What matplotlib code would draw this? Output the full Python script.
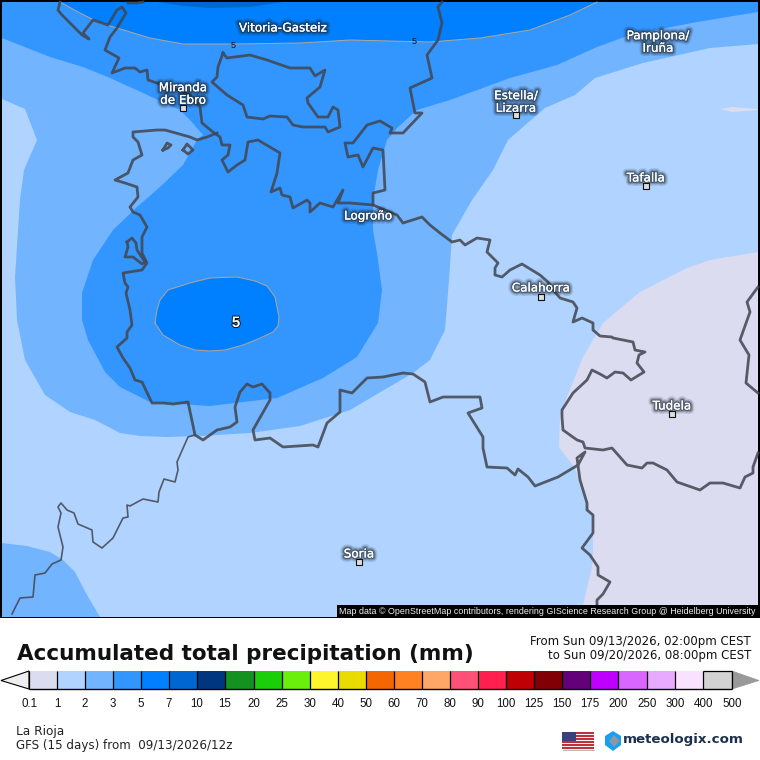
import matplotlib
matplotlib.use("Agg")
import matplotlib.pyplot as plt
import matplotlib.patheffects as pe
from matplotlib.patches import Polygon, Rectangle

# ---------- data (map positions in picture pixels) ----------
LEVELS = ["0.1","1","2","3","5","7","10","15","20","25","30","40","50","60","70","80","90","100",
          "125","150","175","200","250","300","400","500"]
LEVEL_X = [29,57.3,85,113,141,169,197,225,254,282,310,338,366,394,422,450,478,506,534,562,590,618,647,675,703,732]
BAND_COLORS = ["#dcdcf0","#b0d4ff","#73b4ff","#3396ff","#0080ff","#0066d1","#00367f","#14911e","#1acf0a",
               "#6aef0c","#fff52d","#e8dc00","#f46600","#ff8122","#ffa766","#ff5078","#ff2050","#bf0005",
               "#800005","#640078","#c000ff","#d966ff","#e8aaff","#f8e2ff","#d2d2d2"]

area_lt_01 = [(758,252),(710,260),(687,268),(640,292),(603,323),(583,357),(567,397),(560,417),(559,447),(575,468),
              (582,490),(593,520),(593,550),(592,567),(583,605),(580,617),(758,617)]
area_lt_01_sliver = [(720,109),(732,107),(758,109),(758,110),(732,112)]
area_2_main = [(2,2),(2,99),(25,109),(37,140),(24,170),(20,200),(15,277),(17,320),(25,360),(45,395),(70,412),(95,420),
               (120,433),(140,436),(167,437),(200,436),(250,433),(300,426),(350,410),(413,373),(430,360),(445,330),
               (449,280),(452,235),(472,200),(493,170),(508,140),(545,108),(575,95),(595,78),(643,63),(710,48),
               (758,44),(758,2)]
area_2_sw = [(2,543),(27,546),(50,552),(63,560),(75,572),(87,595),(100,617),(2,617)]
area_3_main = [(758,12),(697,22),(630,35),(597,47),(557,65),(510,78),(450,100),(417,110),(397,128),(387,140),(378,170),
               (373,200),(373,230),(377,253),(382,290),(378,323),(357,357),(323,378),(277,398),(210,406),(150,402),
               (120,387),(105,372),(88,340),(82,320),(82,293),(93,260),(113,230),(137,207),(160,187),(183,165),
               (197,140),(203,135),(190,120),(180,110),(143,93),(110,78),(83,67),(50,57),(2,38),(2,2),(758,2)]
area_5_top = [(60,2),(80,13),(100,23),(117,28),(150,38),(183,44),(233,44),(300,43),(350,40),(430,42),(480,38),(530,30),
              (570,15),(597,2)]
area_7_top = [(157,2),(185,6),(210,8),(250,7),(283,2)]
area_5_blob = [(155,323),(157,310),(160,300),(168,290),(190,283),(210,278),(237,277),(255,281),(267,286),(275,297),
               (279,317),(278,326),(273,332),(258,339),(243,345),(225,350),(210,351),(195,350),(180,345),(163,335)]

border_north = [(60,2),(58,10),(62,15),(82,35),(89,39),(83,33),(93,20),(108,25),(117,10),(122,7),(126,13),(117,28),
                (110,37),(105,50),(119,58),(112,73),(125,68),(135,68),(140,72),(147,70),(148,80),(157,83),(172,88),
                (190,95),(200,107),(202,123),(213,132),(220,137),(222,145),(230,145),(228,155),(222,160),(228,172),
                (237,165),(245,160),(248,142),(258,140),(280,153),(277,173),(271,192),(280,188),(282,195),(290,197),
                (293,208),(307,200),(310,203),(310,212),(320,203),(333,207),(343,190),(338,203),(350,203),(373,205),
                (373,193),(385,190),(383,150),(373,148),(363,167),(358,155),(348,157),(345,143),(353,143),(367,125),
                (380,121),(392,128),(390,133),(403,133),(422,113),(415,113),(410,88),(432,78),(427,55),(438,40),
                (442,23),(438,7),(442,2)]
border_enclave = [(223,53),(227,58),(250,55),(267,60),(290,68),(310,68),(315,76),(325,70),(320,87),(307,98),(308,103),
                  (318,117),(328,117),(333,107),(338,110),(340,127),(328,132),(325,127),(303,127),(293,125),(287,117),
                  (270,116),(263,119),(247,117),(243,105),(227,95),(212,82),(217,77),(218,67),(223,53)]
border_west = [(217,133),(207,137),(197,140),(190,137),(165,130),(157,130),(133,132),(133,137),(138,142),(142,155),
               (133,160),(128,173),(115,180),(125,183),(137,187),(138,197),(130,207),(133,212),(140,215),(147,227),
               (142,237),(142,253),(147,263),(142,270),(123,273),(125,283),(128,287),(126,293),(130,310),(132,325),
               (127,332),(127,338),(117,347),(123,358),(130,368),(135,380),(142,382),(152,403),(163,403),(173,404),
               (188,402),(195,435),(203,440),(217,430),(230,427),(237,422),(235,407),(240,392),(247,384),(253,387),
               (262,384),(270,393),(270,400),(253,430),(255,440),(270,438),(283,447),(313,445),(318,447),(327,423),
               (340,412),(340,390),(352,393),(367,378),(383,377),(403,373),(413,374),(425,382),(430,402),(443,397),
               (480,397),(482,408),(468,413),(483,437),(483,448),(487,467),(507,468),(515,475),(518,469),(528,477),
               (535,486),(558,477),(578,465),(585,452),(577,458),(580,480),(587,503),(587,510),(593,515),(593,533),
               (582,548),(590,555),(598,567),(598,575),(610,582),(603,594),(597,600),(597,616)]
border_east = [(373,205),(397,215),(403,223),(422,217),(430,225),(440,233),(452,242),(460,240),(465,245),(477,238),
               (490,240),(487,252),(498,263),(495,268),(495,275),(502,277),(510,270),(522,264),(540,275),(548,282),
               (555,292),(560,298),(573,302),(577,308),(573,322),(582,318),(593,323),(593,330),(600,336),(612,337),
               (613,338),(633,342),(635,350),(645,352),(639,355),(637,363),(644,372),(631,380),(623,373),(615,372),
               (607,378),(600,374),(592,370),(587,380),(573,393),(562,410),(562,417),(563,430),(577,440),(583,442),
               (585,448),(603,450),(612,448),(627,465),(642,468),(647,463),(653,463),(667,470),(677,482),(700,490),
               (710,483),(723,483),(740,488),(745,477),(753,473),(753,467),(758,453)]
border_far_east = [(758,287),(747,302),(750,312),(740,340),(749,355),(746,383),(758,393)]
border_top_a = [(128,3),(137,3),(143,2)]
hole_a = [(163,150),(167,143),(171,145),(168,148),(163,150)]
hole_b = [(183,150),(187,144),(193,150),(188,154),(183,150)]
hole_c = [(127,242),(132,238),(136,243),(137,250),(145,262),(142,264),(133,257),(125,257),(128,247),(127,242)]
border_thin = [(195,435),(188,437),(177,462),(178,470),(175,482),(164,479),(159,492),(158,502),(143,499),(130,506),
               (127,505),(128,517),(123,518),(113,538),(102,548),(93,542),(92,530),(78,524),(74,513),(67,510),(61,503),
               (58,507),(61,513),(58,527),(63,547),(61,560),(52,564),(45,573),(35,575),(33,597),(20,598),(12,614)]

city_labels = ["Vitoria-Gasteiz","Pamplona/\nIruña","Miranda\nde Ebro","Estella/\nLizarra","Tafalla","Logroño",
               "Calahorra","Tudela","Soria"]
city_label_xy = [(283,28),(658,42),(183,94),(516,102),(646,178),(368,216),(541,288),(672,406),(359,554)]
city_marks_x = [183,516,646,541,672,359]
city_marks_y = [108,115,186,297,414,562]
contour_labels = [("5",233,45),("5",414,42)]
stripes_y = [732,735,738,741,744,747]

# ---------- figure ----------
fig = plt.figure(figsize=(7.6,7.6), dpi=100, facecolor="white")
ax = fig.add_axes([0,0,1,1])
ax.set_xlim(0,760); ax.set_ylim(760,0); ax.axis("off")

ax.add_patch(Rectangle((0,0),760,618,fc="black",ec="none",zorder=0))
ax.add_patch(Rectangle((2,2),756,614.5,fc=BAND_COLORS[1],ec="none",zorder=1))
def fill(poly,c,z):
    ax.add_patch(Polygon(poly,closed=True,fc=c,ec="none",zorder=z,clip_on=True))
fill(area_lt_01,BAND_COLORS[0],2); fill(area_lt_01_sliver,BAND_COLORS[0],2)
fill(area_2_main,BAND_COLORS[2],3); fill(area_2_sw,BAND_COLORS[2],3)
fill(area_3_main,BAND_COLORS[3],4)
fill(area_5_top,BAND_COLORS[4],5); fill(area_5_blob,BAND_COLORS[4],5)
fill(area_7_top,BAND_COLORS[5],6)
for poly in (area_5_top,area_5_blob+area_5_blob[:1]):
    ax.plot(*zip(*poly),color="#b3a698",lw=0.7,zorder=7)

for b in (border_north,border_enclave,border_west,border_east,border_far_east,border_top_a,hole_a,hole_b,hole_c):
    ax.plot(*zip(*b),color="#41454f",alpha=0.85,lw=2.0,solid_joinstyle="round",zorder=8)
ax.plot(*zip(*border_thin),color="#41454f",alpha=0.85,lw=1.2,solid_joinstyle="round",zorder=8)

glow = [pe.withStroke(linewidth=6,foreground="#1a2430",alpha=0.15),
        pe.withStroke(linewidth=4,foreground="#1a2430",alpha=0.25),
        pe.withStroke(linewidth=2.2,foreground="#1a2430",alpha=0.45),
        pe.Normal()]
for s,(x,y) in zip(city_labels,city_label_xy):
    ax.text(x,y,s,color="white",fontsize=8.6,ha="center",va="center",linespacing=0.95,
            path_effects=glow,zorder=10)
ax.scatter(city_marks_x,city_marks_y,s=14,marker="s",c="#dddddd",edgecolors="#111111",linewidths=0.8,zorder=11)
for s,x,y in contour_labels:
    ax.text(x,y,s,color="#111111",fontsize=6.5,ha="center",va="center",zorder=10,
            fontfamily="Liberation Sans")
ax.text(236,323,"5",color="white",fontsize=11,fontweight="bold",ha="center",va="center",zorder=10,
        fontfamily="Liberation Sans",path_effects=[pe.withStroke(linewidth=1.2,foreground="black")])

ax.add_patch(Rectangle((337,604.5),423,13,fc="black",ec="none",zorder=12))
ax.text(339,611,"Map data © OpenStreetMap contributors, rendering GIScience Research Group @ Heidelberg University",
        color="#eeeeee",fontsize=6.42,ha="left",va="center",fontfamily="Liberation Sans",zorder=13)

# header
ax.text(17,660,"Accumulated total precipitation (mm)",color="#111111",fontsize=15.5,fontweight="bold",
        ha="left",va="baseline")
ax.text(751,642,"From Sun 09/13/2026, 02:00pm CEST",fontsize=8.5,ha="right",va="center",color="#111111")
ax.text(751,656,"to Sun 09/20/2026, 08:00pm CEST",fontsize=8.5,ha="right",va="center",color="#111111")

# colour scale
for i,c in enumerate(BAND_COLORS):
    ax.add_patch(Rectangle((LEVEL_X[i],671),LEVEL_X[i+1]-LEVEL_X[i],18,fc=c,ec="none",zorder=2))
ax.vlines(LEVEL_X,671,689,color="black",lw=0.9,zorder=3)
ax.hlines(689,LEVEL_X[0],LEVEL_X[-1],color="black",lw=1.0,zorder=3)
ax.hlines(671,LEVEL_X[-2],LEVEL_X[-1],color="black",lw=0.9,zorder=3)
ax.add_patch(Polygon([(29,671),(1,680.5),(29,689)],fc="#eeeeee",ec="black",lw=0.8,zorder=2))
ax.add_patch(Polygon([(732,671),(759,680.5),(732,689)],fc="#999999",ec="#999999",lw=0.5,zorder=2))
for s,x in zip(LEVELS,LEVEL_X):
    ax.text(x,704,s,fontsize=8.3,ha="center",va="center",color="#111111",fontfamily="Liberation Sans")

# footer
ax.text(16,731,"La Rioja",fontsize=8.7,ha="left",va="center",color="#222222")
ax.text(16,746,"GFS (15 days) from  09/13/2026/12z",fontsize=8.6,ha="left",va="center",color="#222222")

# flag
for i,y in enumerate(stripes_y):
    ax.add_patch(Rectangle((562,y),32,1.5,fc="#c0303c",ec="none"))
    ax.add_patch(Rectangle((562,y+1.5),32,1.5,fc="#f2f2f2",ec="none"))
ax.add_patch(Rectangle((562,732),14,9,fc="#3c3f78",ec="none",zorder=3))
ax.add_patch(Rectangle((563,750),32,1,fc="#bbbbbb",ec="none"))

# logo
ax.add_patch(Polygon([(613,731),(621,736),(621,745),(613,751),(605,745),(605,736)],fc="#18a0f0",ec="none",zorder=3))
ax.add_patch(Polygon([(614,735),(620,741),(614,747),(609,741)],fc="#8a97a8",ec="none",zorder=4))
ax.text(623,740,"meteologix.com",fontsize=9.6,fontweight="bold",ha="left",va="center",color="#1b2f4e")

fig.savefig("out.png",dpi=100)
